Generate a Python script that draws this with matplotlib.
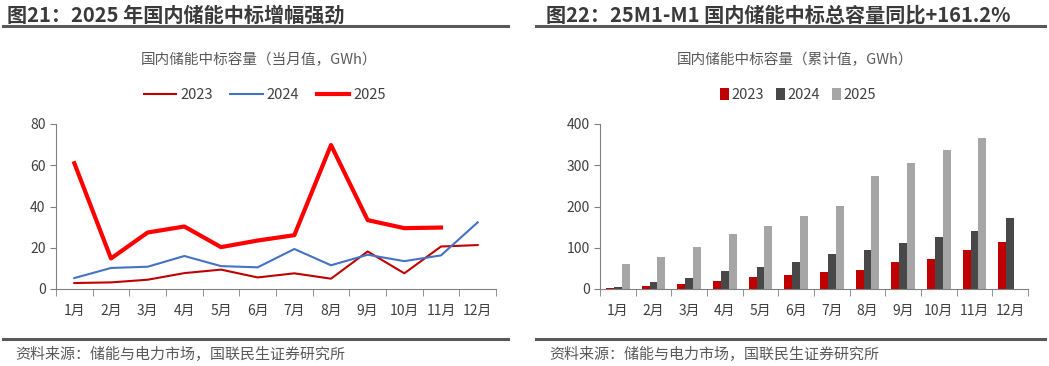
import numpy as np
import matplotlib.pyplot as plt
from matplotlib.lines import Line2D

plt.rcParams['font.family'] = ['Noto Sans CJK SC', 'DejaVu Sans']

months = ['1月', '2月', '3月', '4月', '5月', '6月', '7月', '8月', '9月', '10月', '11月', '12月']

# 当月值 GWh
m2023 = [2.9, 3.2, 4.5, 7.7, 9.4, 5.6, 7.6, 5.0, 18.2, 7.6, 20.6, 21.3]
m2024 = [5.3, 10.2, 10.8, 16.0, 11.1, 10.5, 19.4, 11.5, 16.6, 13.5, 16.3, 32.3]
m2025 = [61.0, 14.8, 27.4, 30.3, 20.3, 23.5, 26.1, 69.8, 33.4, 29.5, 29.8]

# 累计值 GWh
c2023 = [3, 7, 11, 19, 28, 35, 41, 46, 65, 73, 94, 115]
c2024 = [6, 17, 27, 43, 53, 65, 84, 95, 111, 126, 141, 173]
c2025 = [60, 77, 103, 134, 153, 177, 202, 273, 306, 336, 365]

W, H = 1049, 366
fig = plt.figure(figsize=(W / 100, H / 100), dpi=100)
txt = '#404040'
axc = '#808080'


def px(x, y):
    return x / W, 1 - y / H


def style_ax(ax, ymax, ystep):
    for s in ['top', 'right']:
        ax.spines[s].set_visible(False)
    for s in ['left', 'bottom']:
        ax.spines[s].set_color(axc)
    ax.set_xlim(-0.5, 11.5)
    ax.set_ylim(0, ymax)
    ax.set_yticks(np.arange(0, ymax + 1, ystep))
    ax.set_xticks(range(12))
    ax.set_xticklabels(months)
    ax.set_xticks(np.arange(-0.5, 12, 1), minor=True)
    ax.tick_params(axis='x', which='major', length=0, pad=11, labelsize=10, colors=txt)
    ax.tick_params(axis='x', which='minor', length=5, color=axc)
    ax.tick_params(axis='y', length=4, color=axc, labelsize=10, labelcolor=txt)


# left panel
ax1 = fig.add_axes([56 / W, 77 / H, 440 / W, 165 / H])
x = np.arange(12)
l1, = ax1.plot(x, m2023, color='#C00000', lw=1.5, label='2023')
l2, = ax1.plot(x, m2024, color='#4472C4', lw=1.5, label='2024')
l3, = ax1.plot(x[:len(m2025)], m2025, color='#FF0000', lw=3, label='2025')
style_ax(ax1, 80, 20)
fig.legend(handles=[l1, l2, l3], loc='center', bbox_to_anchor=px(265, 95), ncol=3,
           frameon=False, fontsize=10.5, handlelength=2.2, columnspacing=1.2,
           handletextpad=0.3, labelcolor=txt)

# right panel
ax2 = fig.add_axes([600 / W, 77 / H, 428 / W, 165 / H])
bw = 0.22
b1 = ax2.bar(x - bw, c2023, bw, color='#C00000', label='2023')
b2 = ax2.bar(x, c2024, bw, color='#484848', label='2024')
b3 = ax2.bar(x[:len(c2025)] + bw, c2025, bw, color='#A6A6A6', label='2025')
style_ax(ax2, 400, 100)
fig.legend(handles=[b1, b2, b3], loc='center', bbox_to_anchor=px(798, 95), ncol=3,
           frameon=False, fontsize=10.5, handlelength=0.6, handleheight=0.9,
           columnspacing=0.8, handletextpad=0.2, labelcolor=txt)

# chart titles
fig.text(*px(259, 60), '国内储能中标容量（当月值，GWh）', ha='center', va='center',
         fontsize=10.5, color='#595959')
fig.text(*px(795, 60), '国内储能中标容量（累计值，GWh）', ha='center', va='center',
         fontsize=10.5, color='#595959')

# headers
fig.text(*px(7, 15), '图21：2025 年国内储能中标增幅强劲', ha='left', va='center',
         fontsize=14.5, fontweight='bold', color='#3A3A3A')
fig.text(*px(546, 15), '图22：25M1-M1 国内储能中标总容量同比+161.2%', ha='left', va='center',
         fontsize=14.5, fontweight='bold', color='#3A3A3A')

for xa, xb in [(3, 508), (536, 1045)]:
    for yy in [26, 339]:
        fig.add_artist(Line2D([xa / W, xb / W], [1 - yy / H, 1 - yy / H],
                              color='#595959', lw=2.2))

fig.text(*px(15, 354), '资料来源：储能与电力市场，国联民生证券研究所', ha='left', va='center',
         fontsize=10.8, color='#595959')
fig.text(*px(549, 354), '资料来源：储能与电力市场，国联民生证券研究所', ha='left', va='center',
         fontsize=10.8, color='#595959')

fig.savefig('out.png', dpi=100)
